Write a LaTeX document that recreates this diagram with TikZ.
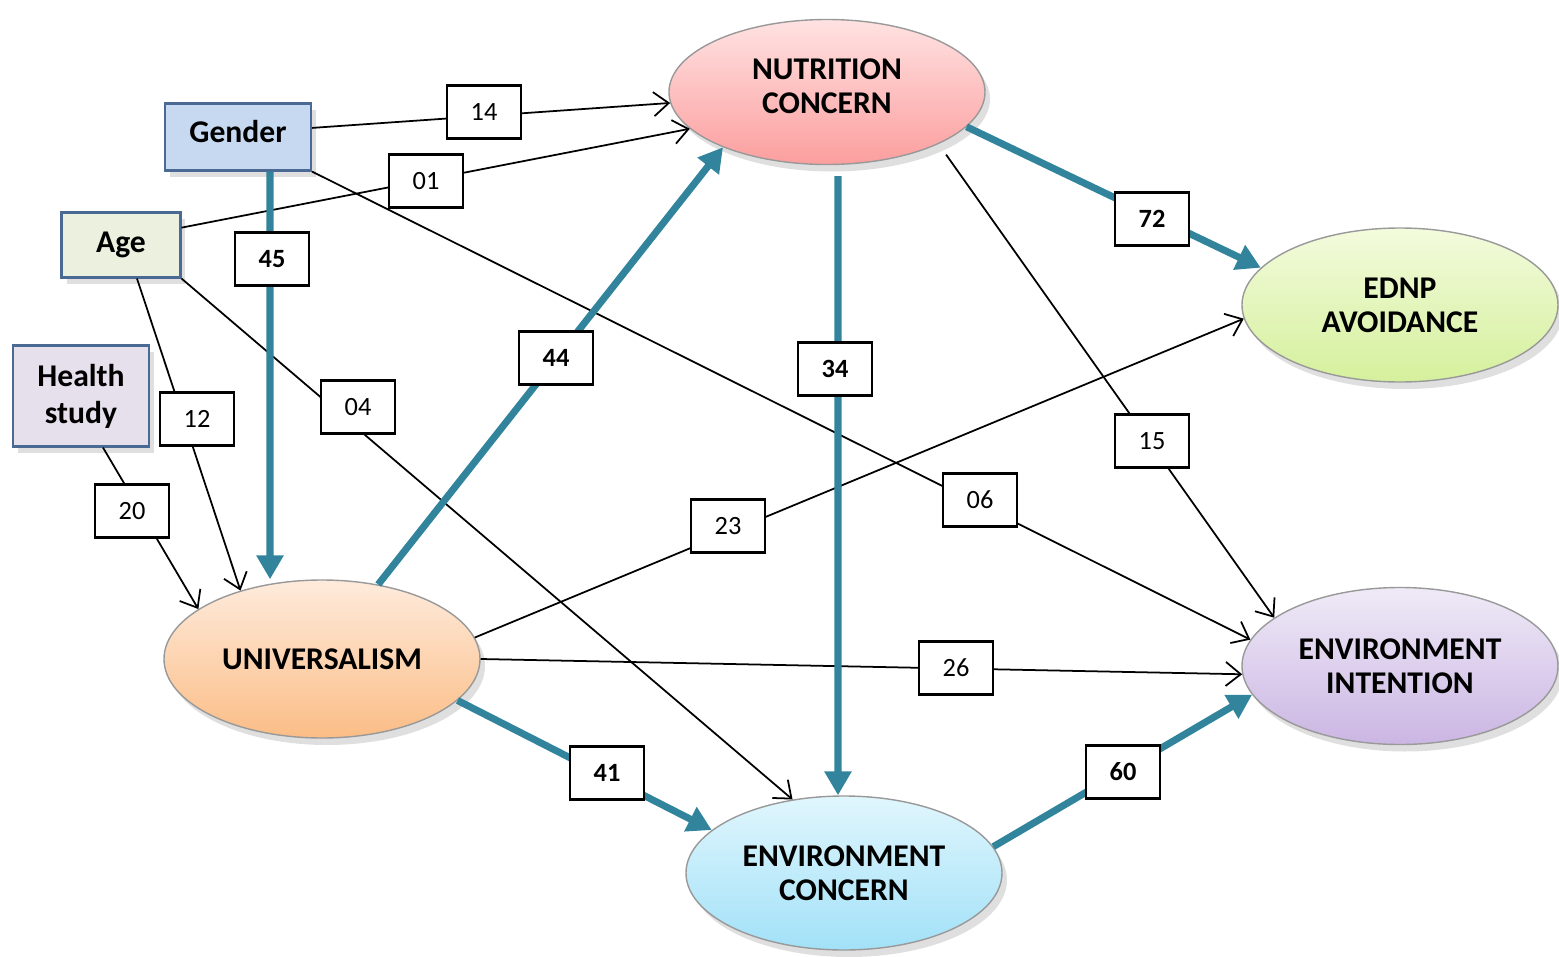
\documentclass[tikz,border=0pt]{standalone}
\usepackage{fontspec}
\setmainfont{Carlito}
\usetikzlibrary{arrows.meta,shapes.geometric,shadows}
\definecolor{pathteal}{HTML}{31849B}
\definecolor{boxedge}{HTML}{4A6A94}
\definecolor{gendfill}{HTML}{C6D9F1}
\definecolor{agefill}{HTML}{EBF1DE}
\definecolor{healthfill}{HTML}{E5E0EC}
\definecolor{nutrtop}{HTML}{FFE2E2}
\definecolor{nutrbot}{HTML}{FC9E9E}
\definecolor{ednptop}{HTML}{F3FBDD}
\definecolor{ednpbot}{HTML}{D5F09C}
\definecolor{einttop}{HTML}{EFEAF7}
\definecolor{eintbot}{HTML}{CBB6E3}
\definecolor{univtop}{HTML}{FEEBDC}
\definecolor{univbot}{HTML}{FBBD86}
\definecolor{econctop}{HTML}{E0F6FD}
\definecolor{econcbot}{HTML}{A2E1F8}
\tikzset{varbox/.style={
    % The shape:
    rectangle,
    % The border:
    draw=boxedge,
    line width=0.6pt,
    % Font
    font=\fontsize{9}{10.5}\selectfont\bfseries,
    align=center,
    drop shadow={shadow xshift=0.5mm,shadow yshift=-0.6mm,opacity=0.25},
    },
    construct/.style={
    ellipse,
    minimum width=31.6mm,
    minimum height=15.4mm,
    inner sep=1pt,
    draw=gray!80,
    line width=0.4pt,
    font=\fontsize{9}{9.6}\selectfont\bfseries,
    align=center,
    drop shadow={shadow xshift=0.5mm,shadow yshift=-0.7mm,opacity=0.25},
    },
    coef/.style={
    rectangle,
    draw=black,
    fill=white,
    line width=0.6pt,
    minimum width=7.4mm,
    minimum height=5.3mm,
    inner sep=0pt,
    font=\fontsize{7.5}{8}\selectfont,
    },
    coefb/.style={coef,font=\fontsize{7.5}{8}\selectfont\bfseries},
    link/.style={draw=black,line width=0.5pt,-{Straight Barb[length=1.5mm,width=2.4mm]}},
    mainlink/.style={draw=pathteal,line width=2pt,-{Triangle[length=2.4mm,width=2.6mm]}},
}

\begin{document}
\begin{tikzpicture}[x=0.1mm,y=-0.1mm]
    \useasboundingbox (0,0) rectangle (1559,957);
    % observed variables
    \node (gender)  [varbox,fill=gendfill,minimum width=14.6mm,minimum height=6.7mm,text depth=1.2mm] at (238,137) {Gender};
    \node (age)     [varbox,fill=agefill,minimum width=11.9mm,minimum height=6.5mm]     at (121,245) {Age};
    \node (health)  [varbox,fill=healthfill,minimum width=13.6mm,minimum height=10.1mm] at (81,396)  {Health\\study};

    % constructs
    \node (nutr)    [construct,top color=nutrtop,bottom color=nutrbot,minimum height=14.5mm,text depth=1.2mm] at (827,92) {NUTRITION\\CONCERN};
    \node (ednp)    [construct,top color=ednptop,bottom color=ednpbot]    at (1400,305) {EDNP\\AVOIDANCE};
    \node (eint)    [construct,top color=einttop,bottom color=eintbot,minimum height=15.7mm] at (1400,666) {ENVIRONMENT\\INTENTION};
    \node (univ)    [construct,top color=univtop,bottom color=univbot,minimum height=15.8mm] at (322,659)  {UNIVERSALISM};
    \node (econc)   [construct,top color=econctop,bottom color=econcbot]  at (844,873)  {ENVIRONMENT\\CONCERN};

    % thin paths
    \draw[link] (gender.7) -- (nutr.184);
    \draw[link] (age.16) -- (nutr.195);
    \draw[link] (gender.south east) -- (eint.170);
    \draw[link] ([xshift=1.6mm]age.south) -- (univ.140);
    \draw[link] (age.south east) -- (econc.125);
    \draw[link] ([xshift=2.2mm]health.south) -- (univ.158);
    \draw[link,shorten <=1.3mm] (nutr.-25) -- (eint.159);
    \draw[link] (univ.8) -- (ednp.185);
    \draw[link] (univ.east) -- (eint.183);

    % main paths
    \draw[mainlink] ([xshift=3.2mm]gender.south) -- ([xshift=-5.2mm]univ.north);
    \draw[mainlink] (univ.53) -- (nutr.208);
    \draw[mainlink,shorten <=1.1mm] ([xshift=1.1mm]nutr.south) -- ([xshift=-0.6mm]econc.north);
    \draw[mainlink] (nutr.-14) -- (ednp.165);
    \draw[mainlink] (univ.-17) -- (econc.162);
    \draw[mainlink] (econc.10) -- (eint.191);

    % coefficients
    \node (c14) [coef]  at (484,112)  {14};
    \node (c01) [coef]  at (426,181)  {01};
    \node (c45) [coefb] at (272,259)  {45};
    \node (c72) [coefb] at (1152,219) {72};
    \node (c44) [coefb] at (556,358)  {44};
    \node (c34) [coefb] at (835,369)  {34};
    \node (c12) [coef]  at (197,419)  {12};
    \node (c04) [coef]  at (358,407)  {04};
    \node (c15) [coef]  at (1152,441) {15};
    \node (c06) [coef]  at (980,500)  {06};
    \node (c20) [coef]  at (132,511)  {20};
    \node (c23) [coef]  at (728,526)  {23};
    \node (c26) [coef]  at (956,668)  {26};
    \node (c41) [coefb] at (607,773)  {41};
    \node (c60) [coefb] at (1123,772) {60};
\end{tikzpicture}
\end{document}
